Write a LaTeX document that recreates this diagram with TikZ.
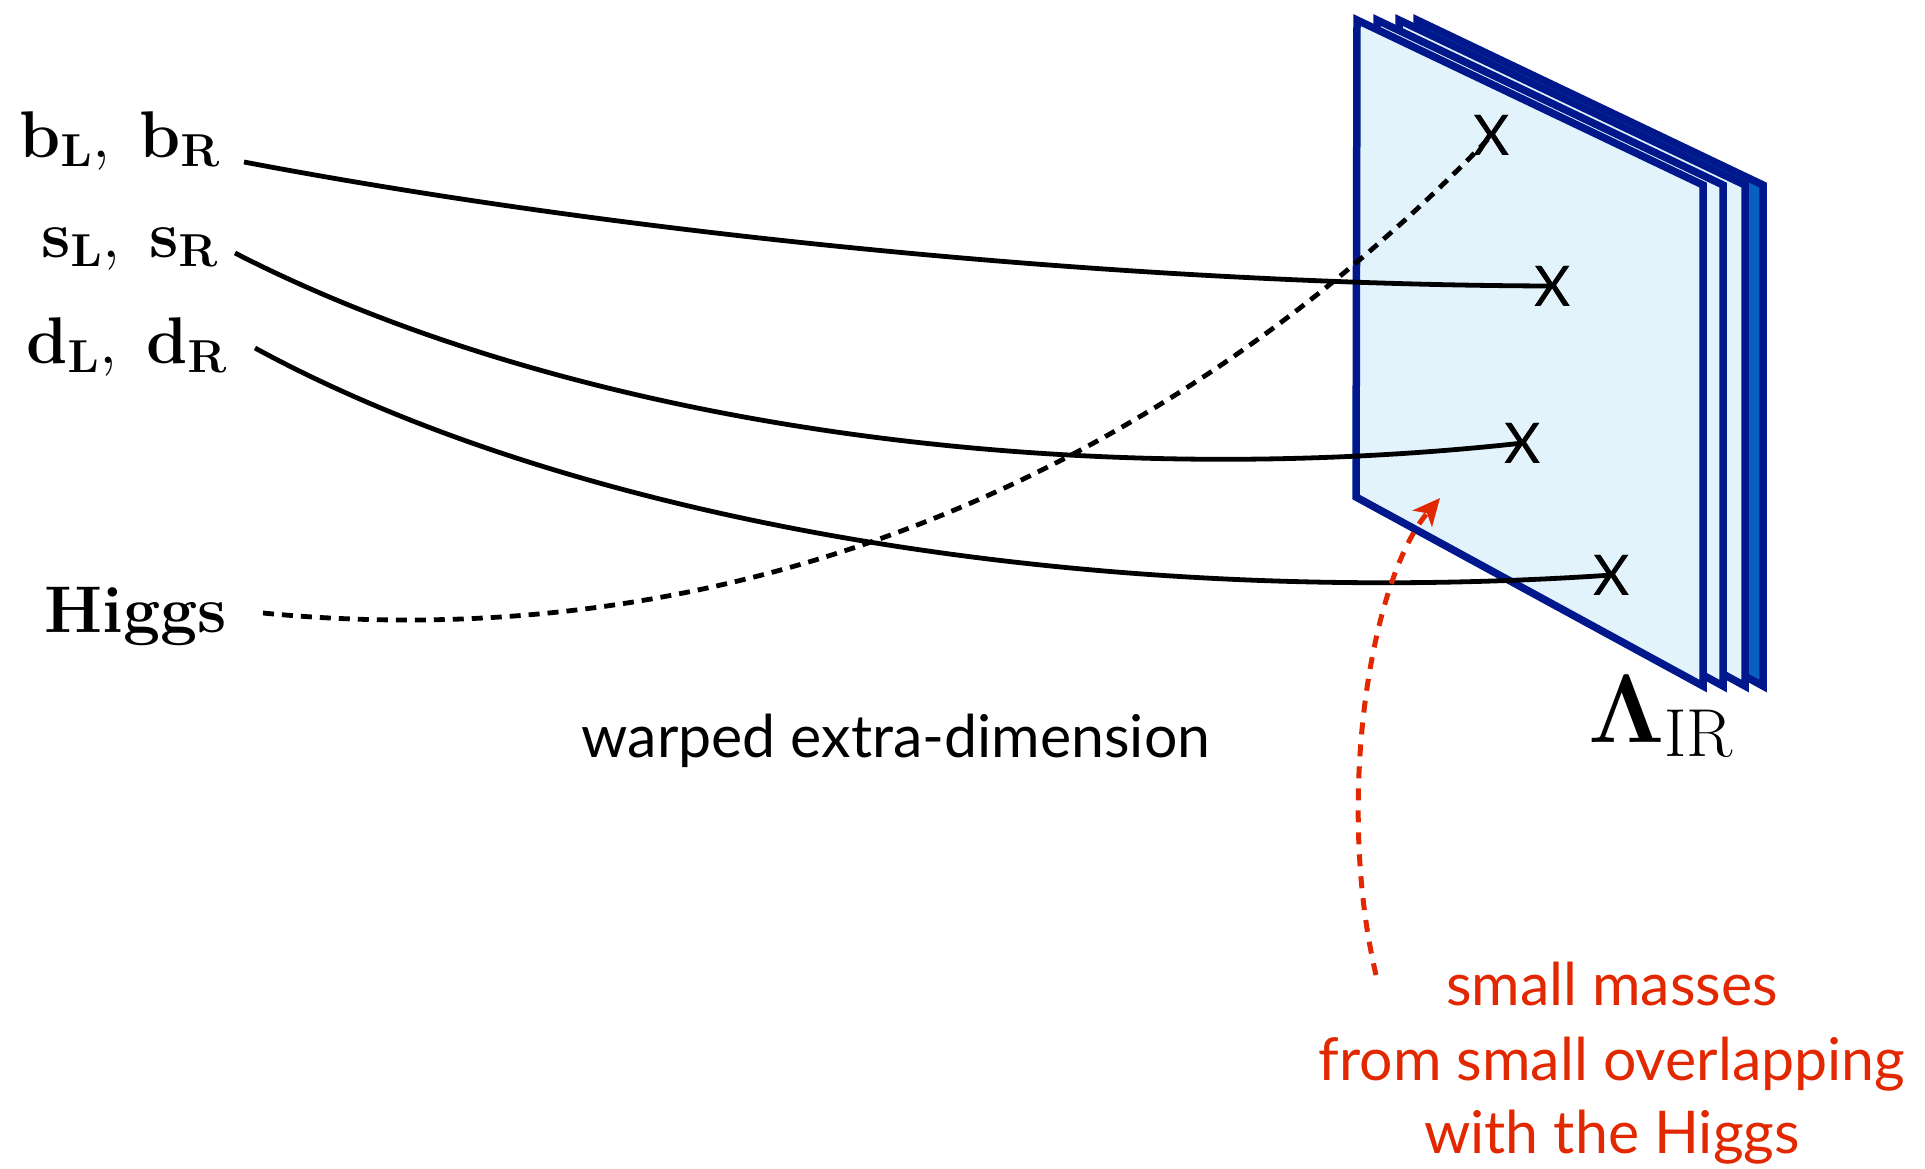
\RequirePackage{fix-cm}
\documentclass[tikz,border=0pt]{standalone}
\usepackage[no-math]{fontspec}
\newfontfamily\gill{Lato}
\usetikzlibrary{arrows.meta}
\definecolor{brane}{RGB}{0,24,140}
\definecolor{branefill}{RGB}{226,243,252}
\definecolor{branedark}{RGB}{8,96,192}
\definecolor{redtxt}{RGB}{225,40,0}
\begin{document}
\begin{tikzpicture}[x=1pt,y=-1pt,
  braneface/.style={draw=brane, line width=7.5pt, line join=miter},
  field/.style={line width=4.8pt, draw=black},
  higgsline/.style={line width=4.8pt, draw=black, dash pattern=on 11pt off 8pt},
  redarrow/.style={draw=redtxt, line width=5pt, dash pattern=on 12pt off 10pt,
     -{Stealth[length=27pt,width=25pt,inset=7pt]}},
  lbl/.style={inner sep=0pt, anchor=base east, font=\fontsize{66}{79}\selectfont},
  xmark/.style={inner sep=0pt, font=\gill\fontsize{56}{60}\selectfont},
  sanstext/.style={inner sep=0pt, anchor=base, font=\gill\fontsize{59}{72}\selectfont},
]
\useasboundingbox (0,0) rectangle (1925,1168);

% branes (back to front)
\foreach \dx/\col in {60/branedark, 42/branefill, 20/branefill, 0/branefill}{
  \draw[braneface, fill=\col, xshift=\dx pt] (1357,20) -- (1703,185) -- (1703,686) -- (1356,497) -- cycle;
}

% labels
\node[lbl] (bl) at (220,157) {$\mathbf{b_L},\hspace{18pt}\mathbf{b_R}$};
\node[lbl] (sl) at (218,257) {$\mathbf{s_L},\hspace{18pt}\mathbf{s_R}$};
\node[lbl] (dl) at (227,363) {$\mathbf{d_L},\hspace{18pt}\mathbf{d_R}$};
\node[lbl] (hl) at (227,632) {\bfseries Higgs};
\node[inner sep=0pt, anchor=base west, font=\fontsize{97}{100}\selectfont] (lam) at (1588,742) {$\mathbf{\Lambda}_{\mathrm{IR}}$};

% X marks
\node[xmark] (x1) at (1492,135) {X};
\node[xmark] (x2) at (1553,286) {X};
\node[xmark] (x3) at (1523,443) {X};
\node[xmark] (x4) at (1612,575) {X};

% start points
\coordinate (bs) at (244,162);
\coordinate (ss) at (235,253);
\coordinate (ds) at (255,348);
\coordinate (hs) at (263,613);
\coordinate (rs) at (1376,975);
\coordinate (rt) at (1440,498);

% fields
\draw[field] (bs) .. controls (644,238) and (1150,285) .. (x2.center);
\draw[field] (ss) .. controls (560,420) and (1050,495) .. (x3.center);
\draw[field] (ds) .. controls (580,525) and (1100,610) .. (x4.center);
\draw[higgsline] (hs) .. controls (800,665) and (1220,420) .. (x1.center);

% red arrow
\draw[redarrow] (rs) .. controls (1335,800) and (1370,580) .. (rt);

% redraw X marks on top
\node[xmark] at (x1) {X};
\node[xmark] at (x2) {X};
\node[xmark] at (x3) {X};
\node[xmark] at (x4) {X};

% texts
\node[sanstext] (warp) at (896,757) {warped extra-dimension};
\node[sanstext, text=redtxt] (r1) at (1612,1005) {small masses};
\node[sanstext, text=redtxt] (r2) at (1612,1080) {from small overlapping};
\node[sanstext, text=redtxt] (r3) at (1612,1153) {with the Higgs};
\end{tikzpicture}
\end{document}
